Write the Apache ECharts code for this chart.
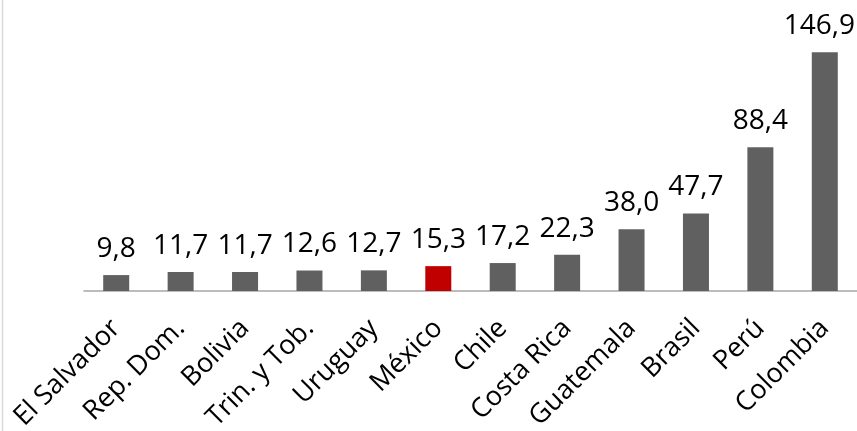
<!DOCTYPE html>
<html>
<head>
<meta charset="utf-8">
<script src="https://cdn.jsdelivr.net/npm/echarts@6/dist/echarts.min.js"></script>
<style>
  html, body { margin: 0; padding: 0; background: #fff; }
  #chart { width: 857px; height: 431px; }
</style>
</head>
<body>
<div id="chart"></div>
<script>
var countries = ['El Salvador', 'Rep. Dom.', 'Bolivia', 'Trin. y Tob.', 'Uruguay', 'México',
                 'Chile', 'Costa Rica', 'Guatemala', 'Brasil', 'Perú', 'Colombia'];
var values = [9.8, 11.7, 11.7, 12.6, 12.7, 15.3, 17.2, 22.3, 38.0, 47.7, 88.4, 146.9];
var highlight = 'México';

var chart = echarts.init(document.getElementById('chart'));

function toBars(vals) {
    return vals.map(function (v, i) {
        var item = { value: v };
        if (countries[i] === highlight) {
            item.itemStyle = { color: '#c00000' };
        }
        return item;
    });
}

var option = {
    animation: false,
    grid: { left: 84, right: 0, top: 31, bottom: 140, containLabel: false, outerBoundsMode: 'none' },
    graphic: [{
        type: 'line',
        shape: { x1: 2.5, y1: 0, x2: 2.5, y2: 431 },
        style: { stroke: '#d9d9d9', lineWidth: 1.5 }
    }],
    xAxis: {
        type: 'category',
        data: countries,
        axisLine: { lineStyle: { color: '#a6a6a6', width: 1.5 } },
        axisTick: { length: 10, lineStyle: { color: '#a6a6a6', width: 1.5 } },
        axisLabel: {
            interval: 0,
            rotate: 45,
            margin: 33,
            color: '#000',
            fontFamily: 'Open Sans',
            fontSize: 27
        }
    },
    yAxis: {
        type: 'value',
        min: 0,
        max: 160,
        show: false
    },
    series: [{
        type: 'bar',
        data: toBars(values),
        barWidth: 26,
        itemStyle: { color: '#606060' },
        label: {
            show: true,
            position: 'top',
            distance: 12,
            color: '#000',
            fontFamily: 'Open Sans',
            fontSize: 28,
            formatter: function (p) {
                return p.value.toFixed(1).replace('.', ',');
            }
        },
        // keep the last label inside the canvas, like the original
        labelLayout: function (p) {
            var over = p.labelRect.x + p.labelRect.width - 855;
            return over > 0 ? { dx: -over } : {};
        }
    }]
};

chart.setOption(option);
</script>
</body>
</html>
